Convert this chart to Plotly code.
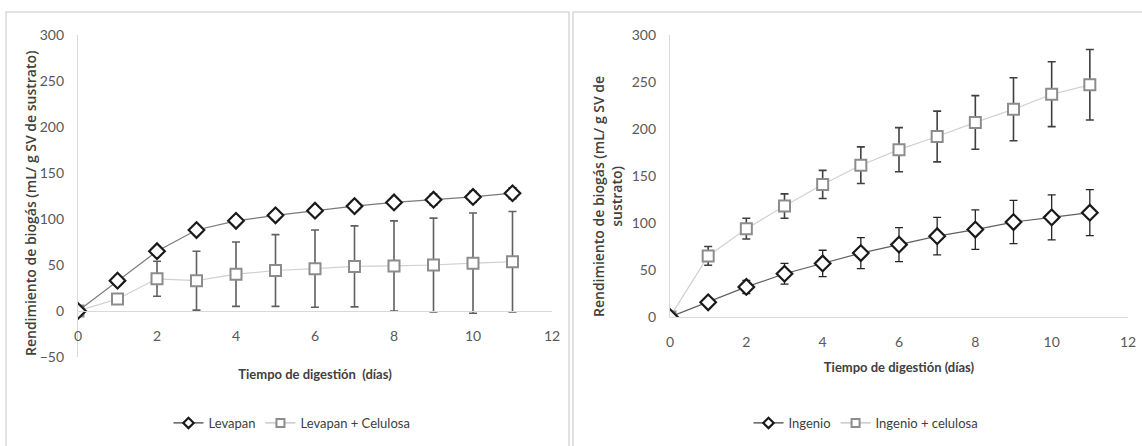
import plotly.graph_objects as go

dias = [0, 1, 2, 3, 4, 5, 6, 7, 8, 9, 10, 11]

levapan = [0, 33, 65, 88, 98, 104, 109, 114, 118, 121, 124, 128]
levapan_err = [0, 3, 4, 4, 4, 5, 5, 5, 5, 6, 6, 6]
levapan_cel = [0, 13, 35, 33, 40, 44, 46, 48.5, 49, 50, 52, 53.6]
levapan_cel_err = [0, 0, 19, 32, 35, 39, 42, 44, 49, 51, 54.5, 54.5]

ingenio = [0, 15.6, 32, 46, 57, 68, 77, 86, 93, 101, 106, 111]
ingenio_err = [0, 3, 7, 11, 14, 16.5, 18, 20, 21, 23, 24, 24.5]
ingenio_cel = [0, 65, 94, 118, 141, 161.5, 178, 192, 207, 221, 237, 247]
ingenio_cel_err = [0, 10, 11, 13, 15, 19.5, 23.5, 27, 28.5, 33.5, 34.5, 37.5]

x_ticks = [0, 2, 4, 6, 8, 10, 12]
y_ticks_left = [-50, 0, 50, 100, 150, 200, 250, 300]
y_ticks_right = [0, 50, 100, 150, 200, 250, 300]

x_title = "Tiempo de digestión  (días)"
x_title_r = "Tiempo de digestión (días)"
y_title_l = "Rendimiento de biogás (mL/ g SV de sustrato)"
y_title_r = "Rendimiento de biogás (mL/ g SV de<br>sustrato)"

W, H = 1142, 446
FAM = "Lato, sans-serif"
TICKFONT = dict(family=FAM, size=14, color="#595959")
TITLEFONT = dict(family=FAM, size=13, color="#404040", weight="bold")
YTITLEFONT = dict(family="Open Sans, sans-serif", size=14, color="#404040", weight=600)
LEGFONT = dict(family=FAM, size=13, color="#404040")
AXCOL = "#d9d9d9"

fig = go.Figure()

DIAMOND = dict(symbol="diamond", color="white", line=dict(color="#1a1a1a", width=2.2))
SQUARE = dict(symbol="square", color="white", line=dict(color="#8c8c8c", width=2.0))


def diamond_trace(y, err, xa, ya, lcol):
    return go.Scatter(
        x=dias, y=y, mode="lines+markers", xaxis=xa, yaxis=ya, showlegend=False,
        line=dict(color=lcol, width=1.2), marker=dict(size=12, **DIAMOND),
        error_y=dict(type="data", array=err, visible=True, color="#262626", thickness=1.3, width=4),
    )


def square_trace(y, err, xa, ya, lcol, ecol):
    return go.Scatter(
        x=dias, y=y, mode="lines+markers", xaxis=xa, yaxis=ya, showlegend=False,
        line=dict(color=lcol, width=1.2), marker=dict(size=11, **SQUARE),
        error_y=dict(type="data", array=err, visible=True, color=ecol, thickness=1.6, width=4),
    )


def legend_entry(name, marker, lcol, legend, xa, ya):
    return go.Scatter(
        x=[None], y=[None], name=name, mode="lines+markers", xaxis=xa, yaxis=ya, legend=legend,
        line=dict(color=lcol, width=1.2), marker=dict(size=8, **marker),
    )


fig.add_trace(square_trace(levapan_cel, levapan_cel_err, "x", "y", "#d0d0d0", "#606060"))
fig.add_trace(diamond_trace(levapan, levapan_err, "x", "y", "#7a7a7a"))
fig.add_trace(square_trace(ingenio_cel, ingenio_cel_err, "x2", "y2", "#d0d0d0", "#404040"))
fig.add_trace(diamond_trace(ingenio, ingenio_err, "x2", "y2", "#606060"))

fig.add_trace(legend_entry("Levapan", DIAMOND, "#404040", "legend", "x", "y"))
fig.add_trace(legend_entry("Levapan + Celulosa", SQUARE, "#bfbfbf", "legend", "x", "y"))
fig.add_trace(legend_entry("Ingenio", DIAMOND, "#404040", "legend2", "x2", "y2"))
fig.add_trace(legend_entry("Ingenio + celulosa", SQUARE, "#bfbfbf", "legend2", "x2", "y2"))

yl_dom = [1 - 357 / H, 1 - 35 / H]
yr_dom = [1 - 317 / H, 1 - 35 / H]
zero_pos = yl_dom[0] + (50 / 350) * (yl_dom[1] - yl_dom[0])

common_x = dict(range=[0, 12], tickvals=x_ticks, showgrid=False, zeroline=False, showline=True,
                linecolor=AXCOL, linewidth=1.2, ticks="", tickfont=TICKFONT, ticklabelstandoff=12,
                title_font=TITLEFONT, automargin=False)
common_y = dict(showgrid=False, zeroline=False, showline=True, linecolor=AXCOL, linewidth=1.2,
                ticks="", tickfont=TICKFONT, ticklabelstandoff=10, automargin=False)

fig.update_layout(
    template="none",
    width=W, height=H,
    margin=dict(l=0, r=0, t=0, b=0, autoexpand=False),
    paper_bgcolor="white", plot_bgcolor="white",
    xaxis=dict(domain=[78 / W, 552 / W], anchor="free", position=zero_pos,
               title=dict(text=x_title, standoff=26), **common_x),
    yaxis=dict(domain=yl_dom, range=[-50, 300], tickvals=y_ticks_left, anchor="x", **common_y),
    xaxis2=dict(domain=[670 / W, 1128 / W], anchor="y2",
                title=dict(text=x_title_r, standoff=13), **common_x),
    yaxis2=dict(domain=yr_dom, range=[0, 300], tickvals=y_ticks_right, anchor="x2", **common_y),
    legend=dict(orientation="h", x=292 / W, xanchor="center", y=1 - 423 / H, yanchor="middle",
                font=LEGFONT, itemwidth=30, bgcolor="rgba(0,0,0,0)"),
    legend2=dict(orientation="h", x=866 / W, xanchor="center", y=1 - 423 / H, yanchor="middle",
                 font=LEGFONT, itemwidth=30, bgcolor="rgba(0,0,0,0)"),
    annotations=[
        dict(text=y_title_l, xref="paper", yref="paper", x=30 / W, y=1 - 203 / H,
             xanchor="center", yanchor="middle", textangle=-90, showarrow=False, font=YTITLEFONT),
        dict(text=y_title_r, xref="paper", yref="paper", x=607 / W, y=1 - 197 / H,
             xanchor="center", yanchor="middle", textangle=-90, showarrow=False, font=YTITLEFONT),
    ],
    shapes=[
        dict(type="rect", xref="paper", yref="paper", x0=6 / W, x1=569 / W, y0=-0.01, y1=1 - 12 / H,
             line=dict(color="#d9d9d9", width=1.5)),
        dict(type="rect", xref="paper", yref="paper", x0=573 / W, x1=1.01, y0=-0.01, y1=1 - 12 / H,
             line=dict(color="#d9d9d9", width=1.5)),
    ],
)

fig.write_html("out.html", config={"displayModeBar": False},
               post_script="document.body.style.margin='0';")
